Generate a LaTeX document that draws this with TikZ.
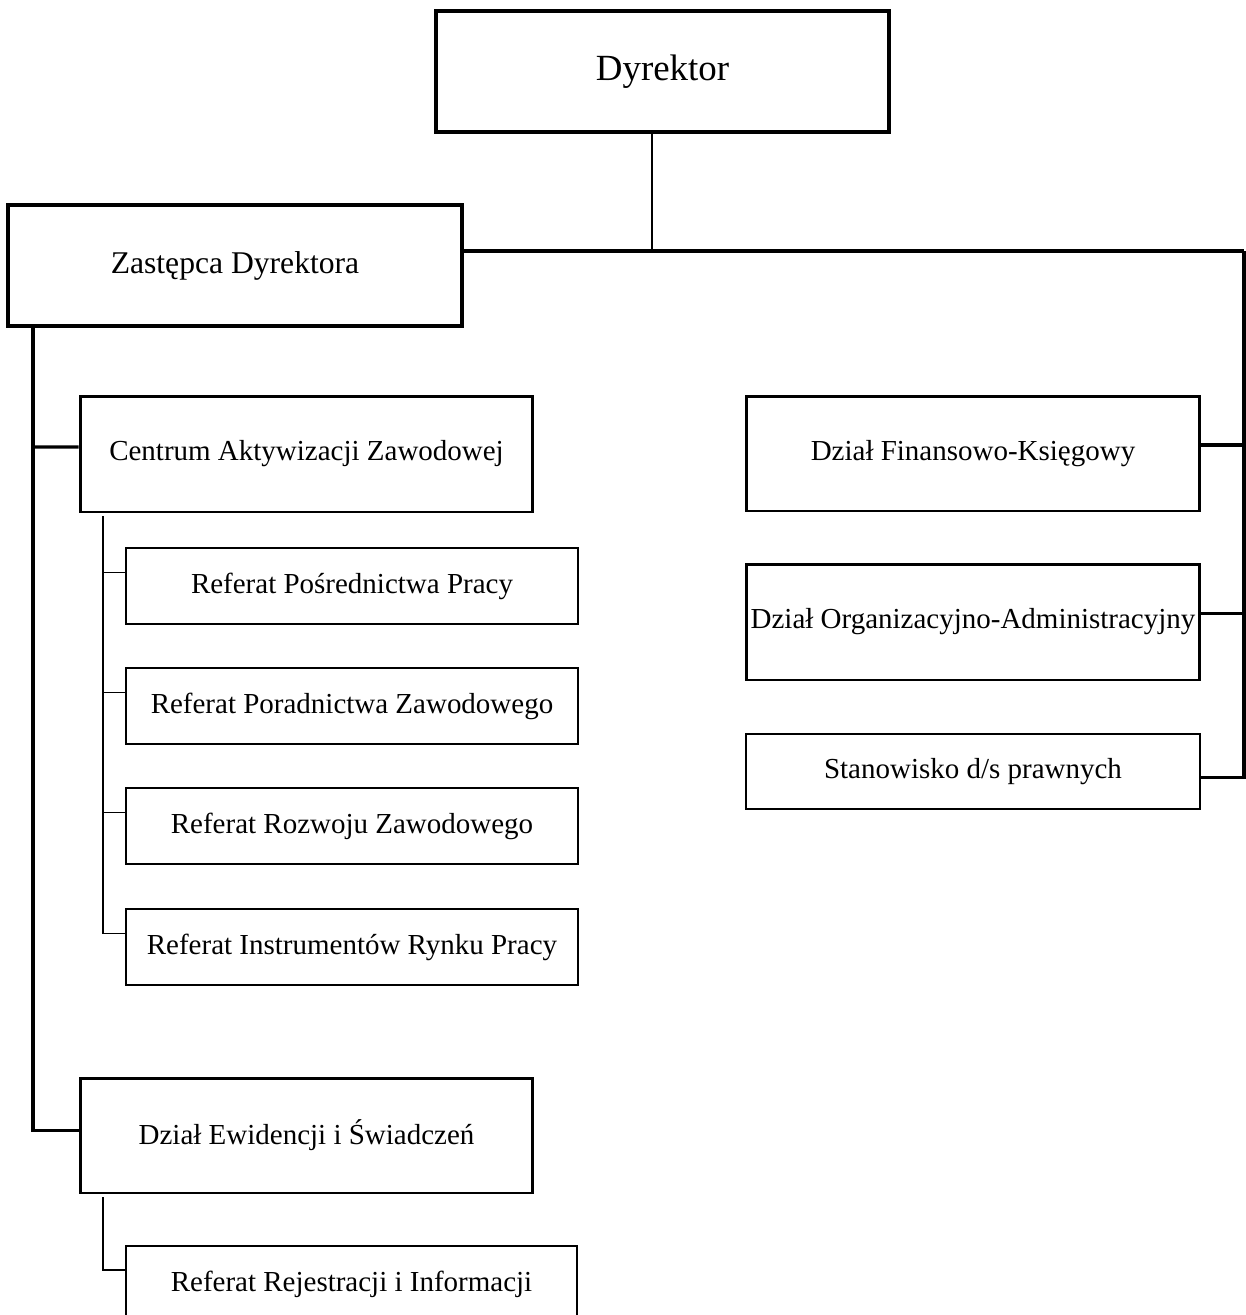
\documentclass[tikz,border=0pt]{standalone}
\usepackage{fontspec}
\setmainfont{Liberation Serif}
\usepackage{tikz}

\begin{document}
\begin{tikzpicture}[x=0.02cm,y=-0.02cm]
    \tikzset{%
      box/.style={rectangle, draw, inner sep=0pt, font=\fontsize{16.5}{19}\selectfont},
      bigbox/.style={box, line width=2.3pt, minimum height=2.42cm},
      midbox/.style={box, line width=1.7pt, minimum width=9.06cm},
      refbox/.style={box, line width=0.8pt, minimum width=9.04cm, minimum height=1.52cm},
      bus/.style={line width=1.8pt},
      sub/.style={line width=0.7pt},
    }
    \useasboundingbox (0,0) rectangle (1246,1315);
    % top
    \node[bigbox, minimum width=9.06cm, font=\fontsize{21}{24}\selectfont] (dyr) at (662.5,71.5) {Dyrektor};
    \node[bigbox, minimum width=9.08cm, font=\fontsize{18}{21}\selectfont] (zast) at (235,265.5) {Zastępca Dyrektora};
    \coordinate (T) at (652,251);
    \coordinate (R) at (1244,251);
    \draw [line width=1.1pt] (T |- dyr.south) -- (T);
    \draw [bus] (zast.east |- R) -- (R);

    % right column
    \node[midbox, minimum height=2.3cm] (dfk) at (973,453.5) {Dział Finansowo-Księgowy};
    \node[midbox, minimum height=2.32cm] (doa) at (973,622) {Dział Organizacyjno-Administracyjny};
    \node[refbox, minimum width=9.08cm, minimum height=1.5cm] (sdp) at (973,771.5) {Stanowisko d/s prawnych};
    \draw [bus] (R) |- ([yshift=-0.12cm]sdp.east);
    \foreach \n in {dfk,doa}
      \draw [bus] ([yshift=0.17cm]\n.east) -- ([yshift=0.17cm]\n.east -| R);

    % left column
    \node[midbox, minimum height=2.32cm] (caz) at (306.5,454) {Centrum Aktywizacji Zawodowej};
    \node[refbox] (rpp) at (352,586) {Referat Pośrednictwa Pracy};
    \node[refbox] (rpz) at (352,706) {Referat Poradnictwa Zawodowego};
    \node[refbox] (rrz) at (352,826) {Referat Rozwoju Zawodowego};
    \node[refbox] (rirp) at (352,947) {Referat Instrumentów Rynku Pracy};
    \node[midbox, minimum height=2.3cm] (dei) at (306.5,1135.5) {Dział Ewidencji i Świadczeń};
    \node[refbox, minimum width=9.02cm] (rri) at (351.5,1284) {Referat Rejestracji i Informacji};

    \coordinate (L) at (33,326);
    \draw [bus] (L) |- ([yshift=0.1cm]dei.west);
    \draw [bus] (L |- caz.west) ++(0,-7) -- ([yshift=0.14cm]caz.west);

    \coordinate (S) at (103,516);
    \draw [sub] (S) |- ([yshift=0.27cm]rirp.west);
    \foreach \n in {rpp,rpz,rrz}
      \draw [sub] ([yshift=0.27cm]\n.west -| S) -- ([yshift=0.27cm]\n.west);
    \coordinate (S2) at (103,1197);
    \draw [sub] (S2) |- ([yshift=0.28cm]rri.west);
\end{tikzpicture}
\end{document}
